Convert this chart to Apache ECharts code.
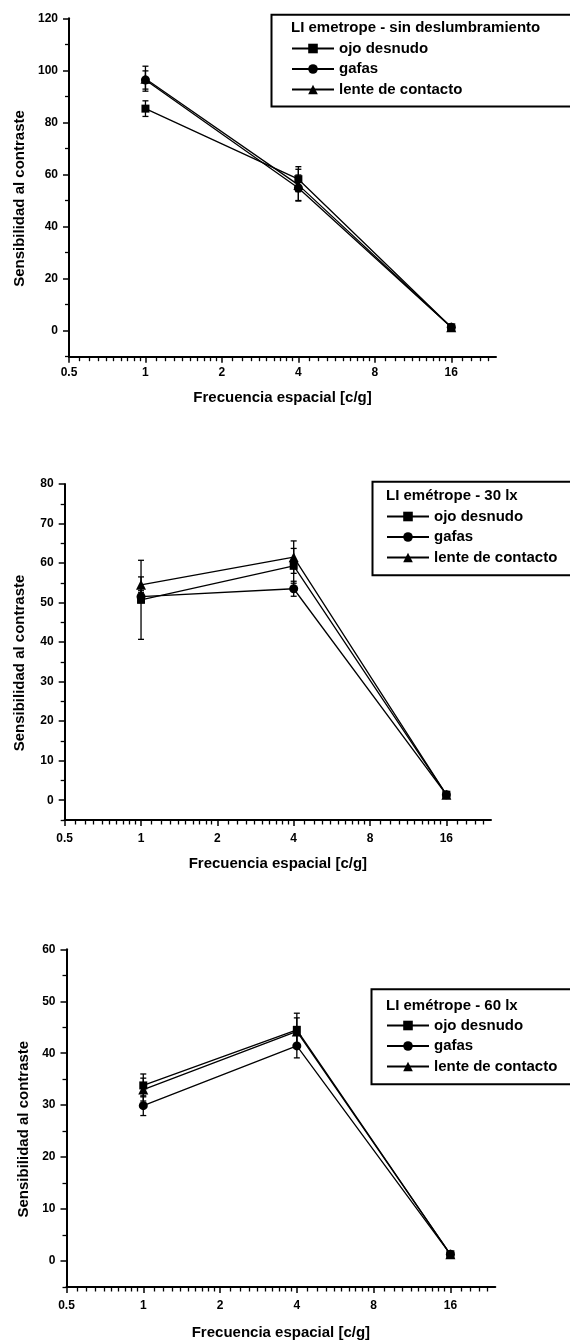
<!DOCTYPE html>
<html>
<head>
<meta charset="utf-8">
<script src="https://cdn.jsdelivr.net/npm/echarts@6/dist/echarts.min.js"></script>
<style>
html, body {margin: 0; padding: 0; background: #fff;}
#main {width: 570px; height: 1341px;}
</style>
</head>
<body>
<div id="main"></div>
<script>
var freq = [1, 4, 16];
var seriesNames = ['ojo desnudo', 'gafas', 'lente de contacto'];
var panelTitles = ['LI emetrope - sin deslumbramiento', 'LI emétrope - 30 lx', 'LI emétrope - 60 lx'];

// panel 1: sin deslumbramiento
var p1Ojo = [85.3, 58.2, 1.3];
var p1OjoErr = [3.0, 4.8, 0.4];
var p1Gafas = [96.3, 54.8, 1.3];
var p1GafasErr = [3.5, 5.0, 0.4];
var p1Lente = [96.8, 56.0, 1.3];
var p1LenteErr = [4.8, 6.0, 0.4];

// panel 2: 30 lx
var p2Ojo = [50.7, 59.3, 1.4];
var p2OjoErr = [10.0, 4.4, 0.4];
var p2Gafas = [51.5, 53.5, 1.4];
var p2GafasErr = [1.5, 1.9, 0.4];
var p2Lente = [54.5, 61.5, 1.4];
var p2LenteErr = [2.0, 4.1, 0.4];

// panel 3: 60 lx
var p3Ojo = [33.8, 44.5, 1.3];
var p3OjoErr = [2.2, 3.2, 0.4];
var p3Gafas = [29.9, 41.4, 1.3];
var p3GafasErr = [1.9, 2.3, 0.4];
var p3Lente = [33.0, 44.2, 1.3];
var p3LenteErr = [2.2, 2.6, 0.4];

// ticks
var xTicks = [0.5, 1, 2, 4, 8, 16];
var y1Ticks = [0, 20, 40, 60, 80, 100, 120];
var y1Minor = [-10, 10, 30, 50, 70, 90, 110];
var y2Ticks = [0, 10, 20, 30, 40, 50, 60, 70, 80];
var y2Minor = [-5, 5, 15, 25, 35, 45, 55, 65, 75];
var y3Ticks = [0, 10, 20, 30, 40, 50, 60];
var y3Minor = [-5, 5, 15, 25, 35, 45, 55];

var xMax = 24;
var xMinor = [];
xTicks.forEach(function (t) {
    for (var k = 1; k < 10; k++) {
        var v = +(t + t * k / 10).toFixed(3);
        if (v < xMax) xMinor.push(v);
    }
});

var panels = [
    {grid: {left: 69, top: 18.3, width: 427, height: 338.4}, yMin: -10, yMax: 120, yTicks: y1Ticks, yMinor: y1Minor,
        values: [p1Ojo, p1Gafas, p1Lente], errs: [p1OjoErr, p1GafasErr, p1LenteErr],
        labelMargin: 10, nameGap: 34, yNameGap: 41,
        box: {x: 269, y: 12.3, h: 91.7}, titleX: 291, titleY: 28.3, legendX: 291, legendTop: 41},
    {grid: {left: 64.7, top: 484, width: 426.3, height: 336}, yMin: -5, yMax: 80, yTicks: y2Ticks, yMinor: y2Minor,
        values: [p2Ojo, p2Gafas, p2Lente], errs: [p2OjoErr, p2GafasErr, p2LenteErr],
        labelMargin: 13, nameGap: 36, yNameGap: 37,
        box: {x: 370, y: 479.3, h: 93.4}, titleX: 386, titleY: 496.7, legendX: 386, legendTop: 509},
    {grid: {left: 66.5, top: 949.3, width: 428.8, height: 338.4}, yMin: -5, yMax: 60, yTicks: y3Ticks, yMinor: y3Minor,
        values: [p3Ojo, p3Gafas, p3Lente], errs: [p3OjoErr, p3GafasErr, p3LenteErr],
        labelMargin: 13, nameGap: 38, yNameGap: 35,
        box: {x: 369, y: 986.7, h: 95}, titleX: 386, titleY: 1006, legendX: 386, legendTop: 1018}
];

var symbols = ['rect', 'circle', 'triangle'];
var symbolSizes = [8, 9, 10];
var fontFam = '"Liberation Sans", Arial, sans-serif';

function errorBarItem(params, api) {
    var x = api.value(0);
    var top = api.coord([x, api.value(2)]);
    var bot = api.coord([x, api.value(1)]);
    var cap = 3;
    var st = {stroke: '#000', lineWidth: 1.3};
    return {
        type: 'group',
        children: [
            {type: 'line', shape: {x1: top[0], y1: top[1], x2: bot[0], y2: bot[1]}, style: st},
            {type: 'line', shape: {x1: top[0] - cap, y1: top[1], x2: top[0] + cap, y2: top[1]}, style: st},
            {type: 'line', shape: {x1: bot[0] - cap, y1: bot[1], x2: bot[0] + cap, y2: bot[1]}, style: st}
        ]
    };
}

var grids = [], xAxes = [], yAxes = [], series = [], legends = [], graphics = [];

panels.forEach(function (p, i) {
    grids.push(p.grid);
    // main x axis
    xAxes.push({
        type: 'log', logBase: 2, min: 0.5, max: xMax, gridIndex: i, position: 'bottom',
        axisLine: {onZero: false, lineStyle: {color: '#000', width: 2}},
        axisTick: {customValues: xTicks, length: 6, lineStyle: {color: '#000', width: 1.5}},
        axisLabel: {customValues: xTicks, color: '#000', fontSize: 12, fontWeight: 'bold', fontFamily: fontFam,
            margin: p.labelMargin, formatter: function (v) { return String(v); }},
        splitLine: {show: false},
        name: 'Frecuencia espacial [c/g]', nameLocation: 'middle', nameGap: p.nameGap,
        nameTextStyle: {color: '#000', fontSize: 15, fontWeight: 'bold', fontFamily: fontFam}
    });
    // minor x ticks
    xAxes.push({
        type: 'log', logBase: 2, min: 0.5, max: xMax, gridIndex: i, position: 'bottom',
        axisLine: {show: false, onZero: false},
        axisTick: {customValues: xMinor, length: 4.5, lineStyle: {color: '#000', width: 1.3}},
        axisLabel: {show: false},
        splitLine: {show: false}
    });
    yAxes.push({
        type: 'value', min: p.yMin, max: p.yMax, gridIndex: i, position: 'left',
        axisLine: {show: true, onZero: false, lineStyle: {color: '#000', width: 2}},
        axisTick: {show: true, customValues: p.yTicks, length: 6, lineStyle: {color: '#000', width: 1.5}},
        axisLabel: {customValues: p.yTicks, color: '#000', fontSize: 12, fontWeight: 'bold', fontFamily: fontFam, margin: 11},
        splitLine: {show: false},
        name: 'Sensibilidad al contraste', nameLocation: 'middle', nameGap: p.yNameGap,
        nameTextStyle: {color: '#000', fontSize: 15, fontWeight: 'bold', fontFamily: fontFam, padding: [0, 22, 0, 0]}
    });
    yAxes.push({
        type: 'value', min: p.yMin, max: p.yMax, gridIndex: i, position: 'left',
        axisLine: {show: false, onZero: false},
        axisTick: {show: true, customValues: p.yMinor, length: 4, lineStyle: {color: '#000', width: 1.3}},
        axisLabel: {show: false},
        splitLine: {show: false}
    });

    seriesNames.forEach(function (name, s) {
        var vals = p.values[s], errs = p.errs[s];
        series.push({
            name: name, type: 'line', xAxisIndex: 2 * i, yAxisIndex: 2 * i,
            data: freq.map(function (f, k) { return [f, vals[k]]; }),
            symbol: symbols[s], symbolSize: symbolSizes[s],
            itemStyle: {color: '#000'},
            lineStyle: {color: '#000', width: 1.3},
            z: 3
        });
        series.push({
            name: name + ' err', type: 'custom', xAxisIndex: 2 * i, yAxisIndex: 2 * i,
            renderItem: errorBarItem,
            encode: {x: 0, y: [1, 2]},
            data: freq.map(function (f, k) { return [f, vals[k] - errs[k], vals[k] + errs[k]]; }),
            z: 2
        });
    });

    legends.push({
        data: seriesNames, orient: 'vertical', left: p.legendX, top: p.legendTop, padding: 0,
        itemWidth: 42, itemHeight: 12, itemGap: 5.5, selectedMode: false,
        textStyle: {color: '#000', fontSize: 15, fontWeight: 'bold', fontFamily: fontFam, lineHeight: 15}
    });

    graphics.push({
        type: 'rect', left: p.box.x, top: p.box.y, silent: true,
        shape: {width: 600, height: p.box.h},
        style: {fill: 'none', stroke: '#000', lineWidth: 2}
    });
    graphics.push({
        type: 'text', left: p.titleX, top: p.titleY - 8, silent: true,
        style: {text: panelTitles[i], fill: '#000', fontSize: 15, fontWeight: 'bold', fontFamily: fontFam}
    });
});

var myChart = echarts.init(document.getElementById('main'), null, {renderer: 'canvas'});
var option = {
    backgroundColor: '#fff',
    animation: false,
    grid: grids,
    xAxis: xAxes,
    yAxis: yAxes,
    legend: legends,
    graphic: graphics,
    series: series
};
myChart.setOption(option);
</script>
</body>
</html>
